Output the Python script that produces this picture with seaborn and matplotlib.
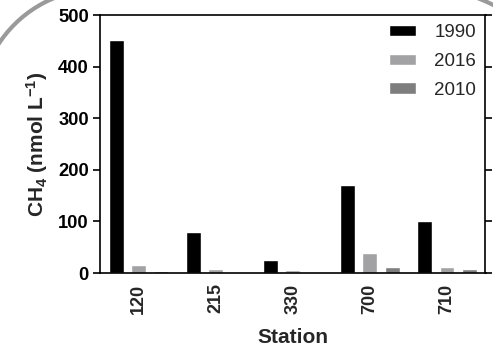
import matplotlib
matplotlib.use('Agg')
import matplotlib.pyplot as plt
import matplotlib.transforms as mtransforms
from matplotlib.patches import Arc
import seaborn as sns
import pandas as pd

stations = ['120', '215', '330', '700', '710']
years = ['1990', '2016', '2010']
ch4_1990 = [452, 79, 25, 170, 101]
ch4_2016 = [16, 7, 6, 39, 12]
ch4_2010 = [4, 0, 0, 12, 7]
colors = ['#000000', '#a2a2a5', '#7e7e7e']
yticks = [0, 100, 200, 300, 400, 500]

rows = []
for yr, vals in zip(years, [ch4_1990, ch4_2016, ch4_2010]):
    for st, v in zip(stations, vals):
        rows.append({'Station': st, 'Year': yr, 'CH4': v})
df = pd.DataFrame(rows)

sns.set_style('ticks')
plt.rcParams['font.family'] = ['Liberation Sans', 'DejaVu Sans']
plt.rcParams['mathtext.fontset'] = 'custom'
plt.rcParams['mathtext.rm'] = 'Liberation Sans'
plt.rcParams['mathtext.bf'] = 'Liberation Sans:bold'
plt.rcParams['mathtext.default'] = 'bf'

fig = plt.figure(figsize=(4.93, 3.52), dpi=100)
ax = fig.add_axes([100 / 493, 1 - 273 / 352, 385.5 / 493, 258 / 352])

sns.barplot(data=df, x='Station', y='CH4', hue='Year', order=stations,
            hue_order=years, palette=colors, width=0.87, gap=0.34,
            saturation=1, errorbar=None, ax=ax)

ax.set_ylim(0, 500)
ax.set_xlim(-0.5, len(stations) - 0.5)
ax.set_yticks(yticks)
ax.set_yticklabels([str(t) for t in yticks], fontsize=13.2, fontweight='bold')
ax.set_xticks(range(len(stations)))
ax.set_xticklabels(stations, rotation=90, fontsize=13, fontweight='bold')
ax.tick_params(axis='x', length=0, pad=7.5)
ax.tick_params(axis='y', right=True, direction='out', length=5, width=1.2,
               pad=3, colors='black')
for s in ax.spines.values():
    s.set_visible(True)
    s.set_linewidth(1.2)
    s.set_color('black')

ax.set_xlabel('Station', fontsize=15, fontweight='bold', labelpad=10)
ax.set_ylabel('CH$_4$ (nmol L$^{-1}$)', fontsize=15, fontweight='bold', labelpad=6)

leg = ax.legend(loc='upper right', frameon=False, fontsize=13.5,
                handlelength=1.45, handleheight=0.55, handletextpad=0.95,
                labelspacing=0.62, borderaxespad=0.2, borderpad=0.3)

ident = mtransforms.IdentityTransform()
fig.add_artist(Arc((100, 352 - 110), 242, 242, theta1=90, theta2=200,
                   transform=ident, color='#9a9a9a', lw=3))
fig.add_artist(Arc((420, 352 - 150), 325, 325, theta1=0, theta2=90,
                   transform=ident, color='#9a9a9a', lw=3))

fig.savefig('out.png', dpi=100)
